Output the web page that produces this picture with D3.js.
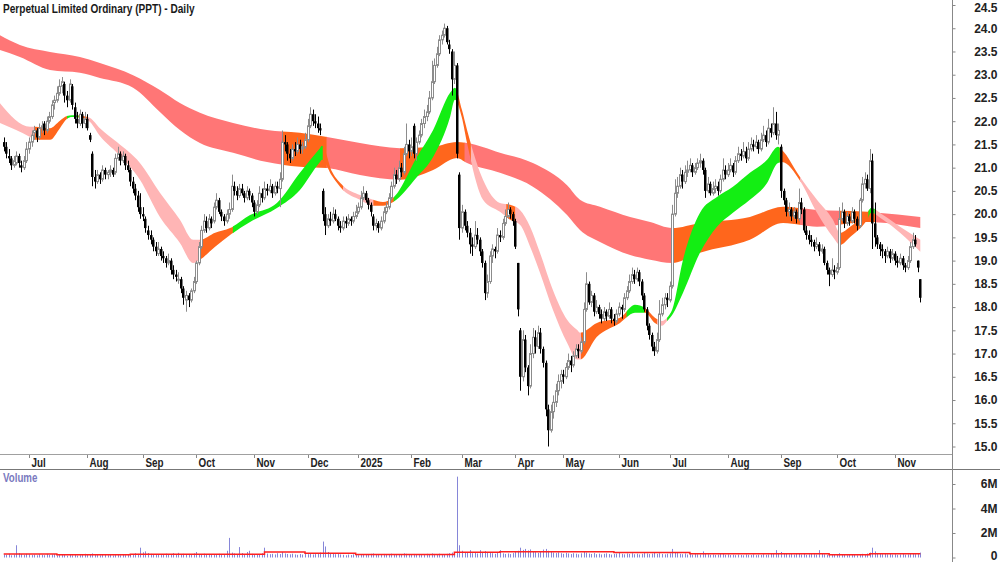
<!DOCTYPE html>
<html>
<head>
<meta charset="utf-8">
<script src="https://cdn.jsdelivr.net/npm/d3@7"></script>
<style>
body { margin: 0; background: #fff; }
svg { display: block; font-family: "Liberation Sans", Arial, sans-serif; }
</style>
</head>
<body>
<div id="chart"></div>
<script>
// ---- Daily OHLC, 17 Jun 2024 .. 17 Nov 2025 (one row per month) ----
var opens = [
  21.55,21.45,21.25,21.20,21.05,21.10,21.25,21.05,21.00,21.15,
  21.40,21.55,21.75,21.80,21.65,21.85,21.95,21.80,22.00,22.10,22.40,22.45,22.60,22.75,22.80,22.55,22.45,22.75,22.30,22.05,21.95,22.15,21.95,
  22.05,21.70,21.30,20.80,20.70,20.85,20.75,20.95,20.85,20.90,20.95,20.90,21.20,21.30,21.15,21.25,21.05,20.95,20.70,20.55,20.40,20.15,
  20.00,19.90,19.65,19.55,19.45,19.30,19.15,19.25,19.10,19.05,18.95,19.00,18.80,18.70,18.60,18.60,18.40,18.15,18.25,18.15,18.35,
  18.55,18.95,19.30,19.65,19.85,19.70,19.90,19.85,20.15,20.30,20.05,19.95,19.85,20.00,20.10,20.60,20.50,20.40,20.55,20.45,20.35,20.50,20.40,
  20.25,20.05,20.20,20.45,20.35,20.55,20.50,20.60,20.45,20.60,20.55,20.75,21.55,21.50,21.30,21.20,21.40,21.35,21.50,21.40,21.45,
  21.60,21.90,22.15,22.00,21.95,21.85,20.50,20.00,19.75,19.90,19.85,20.00,19.90,19.75,19.70,19.85,19.80,19.90,19.85,19.95,
  20.05,20.15,20.35,20.45,20.30,20.20,19.95,19.75,19.80,19.70,19.85,20.05,20.15,20.35,20.60,20.85,20.75,21.00,20.90,21.30,21.50,
  21.35,21.90,21.30,21.55,21.70,21.95,22.10,22.20,22.50,22.85,23.20,23.45,23.75,23.85,24.00,23.65,23.50,22.90,23.20,20.85,
  19.70,20.05,19.75,19.60,19.35,19.30,19.55,19.45,19.20,18.95,18.30,18.55,19.10,19.25,19.20,19.55,19.50,19.80,19.95,20.10,20.00,
  19.85,18.95,17.50,16.50,17.30,16.70,16.30,17.00,17.35,17.15,17.45,17.10,16.80,15.80,15.35,15.75,15.95,16.20,16.40,
  16.55,16.50,16.70,16.85,16.75,16.95,17.10,17.05,17.25,17.95,18.50,18.10,18.25,17.90,18.00,17.85,17.75,17.90,17.80,17.95,17.75,17.70,
  17.85,18.00,17.95,18.20,18.35,18.55,18.70,18.60,18.75,18.55,18.25,17.95,17.60,17.40,17.15,17.05,17.30,17.85,18.05,18.20,
  18.15,18.45,20.00,20.45,20.60,20.85,20.70,20.90,20.95,21.05,20.90,21.00,21.10,21.15,20.95,20.50,20.65,20.45,20.55,20.60,20.50,20.75,20.95,
  20.85,20.95,21.05,20.90,21.15,21.30,21.25,21.35,21.20,21.40,21.50,21.45,21.55,21.40,21.60,21.70,21.55,21.85,21.75,21.95,21.70,
  21.45,20.50,20.30,20.05,20.10,19.95,20.05,19.90,20.25,20.10,19.65,19.55,19.45,19.40,19.30,19.35,19.20,19.25,18.95,18.80,18.70,18.80,
  18.75,18.85,19.90,20.05,19.80,19.95,19.85,20.05,19.90,19.75,20.30,20.65,20.75,20.55,21.15,19.80,19.50,19.35,19.25,19.20,19.10,19.20,19.05,
  19.15,19.00,18.95,19.05,18.90,18.85,19.00,19.30,19.45,19.00,18.60
];
var highs = [
  21.65,21.55,21.40,21.25,21.25,21.35,21.30,21.15,21.25,21.55,
  21.65,21.80,21.90,21.85,21.95,22.00,22.00,22.10,22.20,22.45,22.55,22.75,22.90,22.95,22.85,22.65,22.90,22.80,22.40,22.20,22.25,22.20,22.20,
  22.15,21.75,21.35,20.95,20.95,20.90,21.05,21.00,20.95,21.05,21.00,21.30,21.45,21.35,21.35,21.30,21.15,21.00,20.80,20.65,20.50,20.45,
  20.15,19.95,19.75,19.65,19.50,19.40,19.40,19.30,19.20,19.10,19.15,19.05,18.90,18.80,18.75,18.65,18.45,18.35,18.30,18.40,18.65,
  19.00,19.40,19.75,20.00,19.95,20.00,19.95,20.25,20.45,20.35,20.10,20.00,20.10,20.25,20.85,20.70,20.60,20.65,20.65,20.50,20.60,20.55,20.45,
  20.30,20.30,20.60,20.55,20.70,20.65,20.75,20.65,20.70,20.70,20.90,21.80,21.70,21.55,21.40,21.50,21.55,21.65,21.60,21.55,21.75,
  22.05,22.30,22.25,22.15,22.10,21.95,20.55,20.15,20.00,20.05,20.15,20.10,19.95,19.85,19.95,19.95,20.00,19.95,20.05,20.20,
  20.25,20.50,20.60,20.50,20.35,20.25,20.00,19.90,19.85,19.95,20.15,20.25,20.45,20.70,21.00,20.95,21.15,21.10,21.45,21.95,21.60,
  21.65,21.95,21.65,21.80,22.05,22.25,22.35,22.65,23.30,23.35,23.60,23.85,23.95,24.10,24.05,23.75,23.55,23.50,23.25,20.90,
  20.20,20.10,19.85,19.70,19.50,19.85,19.70,19.50,19.25,19.00,18.70,19.20,19.35,19.30,19.70,19.65,19.90,20.10,20.25,20.15,20.05,
  19.90,18.95,17.55,17.50,17.40,16.75,17.20,17.55,17.50,17.60,17.55,17.15,16.85,15.90,15.90,16.10,16.35,16.55,16.65,
  16.65,16.80,17.00,16.95,17.05,17.20,17.20,17.35,18.10,18.75,18.55,18.35,18.30,18.15,18.05,17.95,18.00,17.95,18.10,18.00,17.85,17.95,
  18.10,18.05,18.30,18.45,18.70,18.85,18.80,18.85,18.80,18.60,18.30,18.00,17.65,17.45,17.25,17.45,18.15,18.20,18.30,18.30,
  18.55,20.20,20.75,20.80,21.00,20.95,21.05,21.15,21.20,21.10,21.10,21.20,21.30,21.20,21.00,20.80,20.70,20.70,20.75,20.70,20.85,21.20,21.05,
  21.10,21.20,21.10,21.25,21.45,21.40,21.55,21.45,21.55,21.65,21.60,21.70,21.60,21.75,21.90,21.80,22.05,21.95,22.30,22.20,21.95,
  21.50,20.55,20.35,20.25,20.15,20.15,20.10,20.55,20.35,20.15,19.75,19.65,19.55,19.45,19.50,19.40,19.35,19.30,19.00,18.85,19.05,18.90,
  18.95,20.15,20.25,20.10,20.05,20.00,20.15,20.10,19.95,20.35,20.80,20.90,20.85,21.40,21.30,20.25,19.55,19.40,19.35,19.25,19.30,19.25,19.25,
  19.20,19.10,19.15,19.10,18.95,19.10,19.40,19.60,19.55,19.00,18.60
];
var lows = [
  21.35,21.20,21.10,20.95,21.00,21.05,21.00,20.90,20.95,21.10,
  21.30,21.45,21.60,21.55,21.60,21.75,21.70,21.75,21.95,22.05,22.25,22.40,22.55,22.60,22.40,22.30,22.40,22.25,21.95,21.85,21.90,21.85,21.85,
  21.80,21.55,20.60,20.55,20.65,20.65,20.70,20.75,20.75,20.80,20.80,20.85,21.15,21.05,21.10,20.95,20.90,20.60,20.45,20.30,20.05,19.90,
  19.85,19.60,19.45,19.35,19.20,19.10,19.10,19.00,18.95,18.85,18.90,18.70,18.60,18.55,18.50,18.30,18.05,17.90,18.00,18.10,18.30,
  18.50,18.90,19.25,19.60,19.60,19.65,19.70,19.80,20.10,20.00,19.85,19.75,19.80,19.90,20.05,20.40,20.30,20.35,20.40,20.25,20.30,20.30,20.15,
  19.95,20.00,20.15,20.25,20.30,20.40,20.45,20.35,20.40,20.45,20.15,20.70,21.35,21.15,21.10,21.15,21.25,21.30,21.30,21.30,21.40,
  21.55,21.85,21.90,21.85,21.75,21.70,19.85,19.55,19.70,19.75,19.80,19.85,19.65,19.60,19.65,19.70,19.75,19.75,19.80,19.90,
  20.00,20.10,20.30,20.25,20.10,19.95,19.65,19.65,19.60,19.65,19.80,20.00,20.10,20.30,20.55,20.65,20.70,20.80,20.85,21.25,21.20,
  21.25,21.20,21.15,21.50,21.65,21.85,22.00,22.15,22.45,22.80,23.15,23.40,23.65,23.80,23.65,23.45,22.55,22.80,21.20,19.45,
  19.60,19.65,19.50,19.15,19.10,19.25,19.35,19.10,18.85,18.15,18.20,18.50,18.95,19.05,19.15,19.40,19.45,19.75,19.90,19.90,19.75,
  19.25,17.80,16.20,16.40,16.60,16.10,16.25,16.90,17.00,17.10,17.00,16.70,15.65,15.00,15.30,15.60,15.85,16.10,16.25,
  16.35,16.45,16.65,16.60,16.70,16.90,16.90,17.00,17.20,17.90,18.05,18.00,17.80,17.85,17.75,17.65,17.70,17.70,17.75,17.65,17.60,17.65,
  17.80,17.75,17.90,18.15,18.30,18.50,18.50,18.55,18.45,18.15,17.90,17.50,17.30,17.05,16.95,17.00,17.25,17.80,17.95,18.00,
  18.10,18.40,19.95,20.35,20.55,20.55,20.65,20.80,20.90,20.80,20.85,20.95,21.00,20.85,20.35,20.45,20.40,20.40,20.45,20.40,20.45,20.70,20.75,
  20.80,20.90,20.80,20.85,21.10,21.15,21.20,21.10,21.15,21.35,21.35,21.40,21.30,21.35,21.55,21.45,21.50,21.65,21.70,21.60,21.50,
  20.35,20.20,19.95,19.95,19.85,19.90,19.80,19.85,20.00,19.60,19.45,19.35,19.30,19.20,19.25,19.10,19.15,18.90,18.70,18.45,18.65,18.60,
  18.70,18.80,19.85,19.70,19.75,19.75,19.80,19.80,19.65,19.70,20.25,20.55,20.50,20.45,19.25,19.30,19.25,19.10,19.05,18.95,19.05,18.95,19.00,
  18.90,18.85,18.90,18.80,18.75,18.80,18.95,19.25,19.30,18.75,18.10
];
var closes = [
  21.45,21.30,21.20,21.05,21.15,21.25,21.10,21.00,21.15,21.40,
  21.55,21.70,21.80,21.65,21.85,21.90,21.80,22.00,22.10,22.35,22.45,22.60,22.75,22.85,22.55,22.45,22.80,22.35,22.05,21.95,22.15,21.95,22.05,
  21.85,21.60,20.80,20.70,20.85,20.75,20.95,20.85,20.90,20.95,20.85,21.20,21.30,21.15,21.25,21.05,20.95,20.70,20.55,20.40,20.15,20.00,
  19.95,19.70,19.55,19.45,19.30,19.20,19.25,19.10,19.05,18.95,19.00,18.80,18.70,18.65,18.60,18.40,18.20,18.25,18.15,18.35,18.55,
  18.95,19.30,19.65,19.85,19.70,19.90,19.80,20.15,20.30,20.05,19.95,19.85,20.00,20.10,20.60,20.50,20.40,20.55,20.45,20.35,20.50,20.40,20.25,
  20.05,20.20,20.45,20.35,20.55,20.50,20.60,20.45,20.60,20.55,20.75,21.55,21.50,21.30,21.20,21.40,21.35,21.50,21.40,21.45,21.60,
  21.90,22.15,22.00,21.95,21.85,21.80,20.00,19.75,19.90,19.85,20.00,19.90,19.75,19.70,19.85,19.80,19.90,19.85,19.95,20.05,
  20.15,20.35,20.45,20.30,20.20,20.05,19.75,19.80,19.70,19.85,20.05,20.15,20.35,20.60,20.85,20.75,21.00,20.90,21.30,21.50,21.35,
  21.45,21.30,21.55,21.70,21.95,22.10,22.20,22.50,22.85,23.20,23.45,23.75,23.85,24.00,23.70,23.55,22.90,23.20,21.30,19.70,
  20.05,19.75,19.60,19.35,19.30,19.55,19.45,19.20,18.95,18.30,18.55,19.10,19.25,19.20,19.55,19.50,19.80,19.95,20.10,20.00,19.85,
  19.30,17.95,16.50,17.30,16.70,16.30,17.00,17.35,17.15,17.45,17.10,16.80,15.80,15.35,15.75,15.95,16.20,16.40,16.55,
  16.50,16.70,16.85,16.75,16.95,17.10,17.05,17.25,17.95,18.50,18.10,18.25,17.90,18.00,17.85,17.75,17.90,17.80,17.95,17.75,17.70,17.85,
  18.00,17.95,18.20,18.35,18.55,18.70,18.60,18.75,18.55,18.25,17.95,17.60,17.40,17.15,17.05,17.30,17.85,18.05,18.20,18.15,
  18.45,20.00,20.45,20.60,20.85,20.70,20.90,20.95,21.05,20.90,21.00,21.10,21.15,20.95,20.50,20.65,20.45,20.55,20.60,20.50,20.75,20.95,20.85,
  20.95,21.05,20.90,21.15,21.30,21.25,21.35,21.20,21.40,21.50,21.45,21.55,21.40,21.60,21.70,21.55,21.85,21.75,21.95,21.70,21.80,
  20.50,20.30,20.05,20.10,19.95,20.05,19.90,20.25,20.10,19.65,19.55,19.45,19.40,19.30,19.35,19.20,19.25,18.95,18.80,18.70,18.80,18.75,
  18.85,19.90,20.05,19.80,19.95,19.85,20.05,19.90,19.75,20.30,20.65,20.75,20.55,21.15,19.80,19.50,19.35,19.25,19.20,19.10,19.20,19.05,19.15,
  19.00,18.95,19.05,18.90,18.85,19.00,19.30,19.45,19.35,18.85,18.20
];
// volume, millions of shares
var volumes = [
  0.25,0.22,0.30,0.18,0.24,1.00,0.35,0.28,0.22,0.30,
  0.26,0.20,0.24,0.18,0.27,0.22,0.19,0.30,0.21,0.25,
  0.28,0.18,0.23,0.26,0.20,0.15,0.22,0.18,0.21,0.16,
  0.19,0.23,0.30,0.27,0.24,0.33,0.22,0.20,0.18,0.23,
  0.25,0.19,0.21,0.17,0.20,0.24,0.18,0.22,0.19,0.26,
  0.21,0.24,0.35,0.30,0.80,0.42,0.50,0.36,0.30,0.22,
  0.28,0.25,0.20,0.24,0.31,0.26,0.22,0.35,0.28,0.38,
  0.25,0.30,0.22,0.29,0.24,0.33,0.45,0.28,0.26,0.31,
  0.24,0.29,0.22,0.27,0.25,0.30,0.21,0.26,0.55,1.60,
  0.40,0.33,0.28,0.85,0.36,0.27,0.45,0.55,0.30,0.26,
  0.24,0.22,0.35,0.80,0.32,0.27,0.30,0.25,0.35,0.28,
  0.45,0.33,0.29,0.26,0.31,0.25,0.22,0.28,0.24,0.30,
  0.27,0.32,0.25,0.28,0.35,0.40,1.30,0.90,0.45,0.36,
  0.30,0.27,0.33,0.25,0.22,0.18,0.24,0.20,0.26,0.22,
  0.19,0.25,0.21,0.28,0.24,0.30,0.33,0.26,0.22,0.25,
  0.29,0.23,0.27,0.31,0.25,0.22,0.28,0.24,0.34,0.30,
  0.26,0.23,0.29,0.25,0.21,0.27,0.24,0.30,0.28,0.33,
  0.29,0.25,0.31,0.27,0.24,0.30,0.35,0.40,0.45,6.60,
  1.00,0.55,0.42,0.38,0.60,0.35,0.40,0.33,0.60,0.45,
  0.52,0.38,0.41,0.35,0.30,0.37,0.60,0.34,0.29,0.33,
  0.28,0.36,0.45,0.55,0.80,0.62,0.70,0.58,0.66,0.50,
  0.44,0.38,0.47,0.65,0.70,0.55,0.48,0.40,0.36,0.42,
  0.35,0.30,0.38,0.33,0.28,0.35,0.31,0.26,0.34,0.45,
  0.40,0.32,0.29,0.36,0.27,0.31,0.25,0.30,0.34,0.28,
  0.24,0.29,0.32,0.40,0.30,0.26,0.33,0.29,0.35,0.27,
  0.31,0.25,0.30,0.36,0.33,0.28,0.32,0.38,0.30,0.35,
  0.29,0.26,0.31,0.34,0.70,0.45,0.36,0.30,0.27,0.33,
  0.25,0.29,0.23,0.28,0.26,0.24,0.50,0.35,0.27,0.22,
  0.25,0.21,0.24,0.28,0.30,0.22,0.26,0.20,0.23,0.19,
  0.24,0.21,0.18,0.25,0.22,0.20,0.26,0.19,0.23,0.21,
  0.27,0.22,0.25,0.30,0.28,0.60,0.35,0.45,0.33,0.29,
  0.26,0.30,0.24,0.28,0.33,0.25,0.29,0.22,0.26,0.30,
  0.27,0.24,0.60,0.31,0.26,0.22,0.28,0.25,0.21,0.24,
  0.35,0.28,0.22,0.19,0.25,0.20,0.23,0.18,0.26,0.30,
  0.28,0.33,0.40,0.80,0.50,0.35,0.30,0.27,0.32,0.26,
  0.29,0.24,0.27,0.22,0.25,0.30,0.23,0.26,0.28,0.31,
  0.27,0.35,0.40
];
// volume average (red line), step levels
var volAvgIdx   = [0,    21,   50,   103,  119,  139,  178,  196,  241,  271,  326,  342,  362];
var volAvgLevel = [0.29, 0.22, 0.27, 0.45, 0.35, 0.25, 0.42, 0.47, 0.40, 0.30, 0.22, 0.30, 0.30];

// long-term ribbon (bar index, upper and lower edge)
var longIdx   = [-1.5, 6.4, 18.3, 30.1, 38.0, 51.1, 61.7, 69.6, 77.5, 90.6, 104, 117, 127.7, 140.7, 156.5, 169.6, 179, 183, 196, 209, 222.5, 227.6, 235.5, 247.4, 255.3, 264, 275, 294.7, 307.8, 321.2, 341, 362];
var longUpper = [23.85,23.64,23.49,23.38,23.25,22.99,22.67,22.39,22.18,21.96,21.81,21.75,21.66,21.53,21.42,21.45,21.55,21.53,21.32,21.10,20.62,20.31,20.16,19.94,19.83,19.70,19.81,19.94,20.16,20.09,20.05,19.94];
var longLower = [23.53,23.38,23.10,23.04,22.93,22.72,22.20,21.81,21.53,21.32,21.12,21.02,20.99,20.84,20.74,20.95,21.21,21.10,20.89,20.59,19.98,19.66,19.40,19.12,19.02,18.95,19.17,19.45,19.81,19.73,19.83,19.70];
var longColour = [[-2,"red"],[110,"orange"],[127.5,"red"],[156.5,"orange"],[182,"red"],[264,"orange"],[314.5,"red"],[330,"orange"],[344.5,"red"]];

// short-term ribbon
var shortIdx   = [-1.5,10.4,12.4,18.3,22.2,25,27,31.3,34.1,38,44.7,53.8,61.7,69.6,74.8,77.5,83.5,89.4,97.3,107.9,117,124.9,125.7,129.7,134,140.7,145.9,149.8,153.8,163.2,169.6,176.3,178.2,181,183,189.3,196,200,203.9,207.9,211.8,216.9,222.5,226.4,227.6,234.3,243.4,249.3,253.3,257.2,260,262,264,268.3,275,281.7,288,294.7,301.5,305.8,307.4,314.5,321.2,327.5,330.3,334.3,341,342.6,347.3,354,362];
var shortUpper = [22.39,21.88,21.88,21.85,22.01,22.11,22.13,22.11,22.07,21.85,21.55,21.10,20.46,19.88,19.45,19.45,19.60,19.70,19.98,20.24,20.89,21.42,21.47,20.91,20.61,20.41,20.31,20.26,20.35,21.23,21.81,22.61,22.72,22.24,21.81,20.74,20.24,20.20,20.09,19.73,19.17,18.37,17.73,17.51,17.45,17.66,17.77,18.05,17.98,17.77,17.70,17.77,17.94,19.02,20.03,20.37,20.59,20.89,21.17,21.45,21.38,20.80,20.31,19.88,19.60,19.73,20.03,20.13,19.98,19.73,19.45];
var shortLower = [21.96,21.66,21.60,21.60,21.85,22.05,22.09,22.07,21.98,21.68,21.32,20.74,19.94,19.38,18.95,19.02,19.30,19.55,19.83,20.13,20.52,21.12,21.17,20.82,20.52,20.31,20.18,20.18,20.26,20.80,21.23,22.09,22.46,22.07,21.53,20.31,20.05,19.88,19.77,19.30,18.74,17.94,17.23,16.87,16.87,17.36,17.66,17.88,17.88,17.66,17.60,17.70,17.83,18.31,19.17,19.73,20.03,20.31,20.67,21.10,21.12,20.72,20.03,19.51,19.34,19.51,19.88,20.03,19.88,19.60,19.19];
var shortColour = [[-2,"pink"],[12,"orange"],[25,"green"],[29.5,"orange"],[33,"pink"],[77.5,"orange"],[90.5,"green"],[126,"orange"],[134,"pink"],[146,"orange"],[154,"green"],[179,"orange"],[184.5,"pink"],[198.5,"orange"],[202,"pink"],[228,"orange"],[246,"green"],[253,"orange"],[258,"pink"],[262,"green"],[306.5,"orange"],[314.5,"pink"],[330.5,"orange"],[341.5,"green"],[344,"pink"]];

var priceTicks  = d3.range(15, 24.51, 0.5);
var volumeTicks = [0, 2, 4, 6];
var monthNames  = ["2025","Feb","Mar","Apr","May","Jun","Jul","Aug","Sep","Oct","Nov","Dec"];
var holidays    = ["2024-12-25","2024-12-26","2025-01-01","2025-01-27","2025-04-18","2025-04-21","2025-04-25","2025-06-09"];

var ribbonFill = { red: "#ff7676", orange: "#ff661c", green: "#13ee13", pink: "#ffb5b5" };

// ---- layout ----
var chart_width  = 1000;
var chart_height = 562;
var axis_x       = 952.5;

// trading days
var dates = [];
var day = new Date(Date.UTC(2024, 5, 17));
while (dates.length < closes.length) {
    var wd = day.getUTCDay();
    var key = day.toISOString().slice(0, 10);
    if (wd > 0 && wd < 6 && holidays.indexOf(key) < 0) dates.push(new Date(day));
    day.setUTCDate(day.getUTCDate() + 1);
}

var x    = d3.scaleLinear().domain([0, closes.length - 1]).range([3.7, 3.7 + (closes.length - 1) * 2.532]);
var y    = d3.scaleLinear().domain([15, 24.5]).range([446.5, 5]);
var yVol = d3.scaleLinear().domain([0, 6]).range([557.5, 484]);

var svg = d3.select("#chart")
    .append("svg")
    .attr("width", chart_width)
    .attr("height", chart_height);

var defs = svg.append("defs");

// squeeze text into the narrow look of the original
function squeeze(sel, k) {
    sel.each(function() {
        var w = this.getComputedTextLength();
        d3.select(this).attr("textLength", w * k).attr("lengthAdjust", "spacingAndGlyphs");
    });
}

// ---- ribbons ----
var ribbons = svg.append("g");
var clipN = 0;
function drawRibbon(idx, upper, lower, stops) {
    var area = d3.area()
        .x(function(d, i) { return x(idx[i]); })
        .y0(function(d, i) { return y(lower[i]); })
        .y1(function(d, i) { return y(upper[i]); })
        .curve(d3.curveMonotoneX);
    stops.forEach(function(s, k) {
        var x0 = k === 0 ? 0 : x(s[0]);
        var x1 = k + 1 < stops.length ? x(stops[k + 1][0]) + 0.6 : axis_x;
        var id = "clip" + (clipN++);
        defs.append("clipPath").attr("id", id)
            .append("rect")
            .attr("x", x0).attr("y", 0)
            .attr("width", x1 - x0).attr("height", 454);
        ribbons.append("path")
            .datum(idx)
            .attr("d", area)
            .attr("fill", ribbonFill[s[1]])
            .attr("clip-path", "url(#" + id + ")");
    });
}
drawRibbon(longIdx, longUpper, longLower, longColour);
drawRibbon(shortIdx, shortUpper, shortLower, shortColour);

// ---- candles ----
var candles = svg.append("g");
closes.forEach(function(c, i) {
    var o = opens[i], up = c >= o;
    var cx = Math.round(x(i)) + 0.5;
    var top = y(Math.max(o, c)), bot = y(Math.min(o, c));
    candles.append("line")
        .attr("x1", cx).attr("x2", cx)
        .attr("y1", y(highs[i])).attr("y2", y(lows[i]))
        .attr("stroke", up ? "#8c8c8c" : "#000")
        .attr("stroke-width", 1);
    if (up) {
        candles.append("rect")
            .attr("x", cx - 1).attr("y", top)
            .attr("width", 2).attr("height", Math.max(bot - top, 1))
            .attr("fill", "#fff").attr("stroke", "#8c8c8c").attr("stroke-width", 1);
    } else {
        candles.append("rect")
            .attr("x", cx - 1.5).attr("y", top)
            .attr("width", 2.5).attr("height", Math.max(bot - top, 1))
            .attr("fill", "#000");
    }
});

// ---- volume ----
var vol = svg.append("g");
volumes.forEach(function(v, i) {
    var cx = Math.round(x(i)) + 0.5;
    vol.append("line")
        .attr("x1", cx).attr("x2", cx)
        .attr("y1", yVol(0)).attr("y2", yVol(v))
        .attr("stroke", "#8686d8").attr("stroke-width", 1);
});
vol.append("path")
    .datum(volAvgIdx)
    .attr("d", d3.line()
        .x(function(d) { return x(d); })
        .y(function(d, i) { return yVol(volAvgLevel[i]); })
        .curve(d3.curveStepAfter))
    .attr("fill", "none")
    .attr("stroke", "#ff2020")
    .attr("stroke-width", 1.5);

// ---- frame ----
svg.append("line").attr("x1", 0).attr("x2", axis_x).attr("y1", 454.5).attr("y2", 454.5).attr("stroke", "#a0a0a0");
svg.append("line").attr("x1", 0).attr("x2", chart_width).attr("y1", 469.5).attr("y2", 469.5).attr("stroke", "#777");
svg.append("line").attr("x1", axis_x).attr("x2", axis_x).attr("y1", 0).attr("y2", chart_height).attr("stroke", "#888");

// price axis
var yAxis = d3.axisRight(y).tickValues(priceTicks).tickSize(3).tickFormat(d3.format(".1f"));
var ya = svg.append("g").attr("transform", "translate(" + axis_x + ",0)").call(yAxis);
ya.select(".domain").remove();
ya.selectAll(".tick line").attr("stroke", "#888");
ya.selectAll(".tick text")
    .attr("x", 45).attr("text-anchor", "end")
    .attr("font-size", 12).attr("font-weight", "bold").attr("fill", "#222")
    .attr("font-family", "Liberation Sans, Arial, sans-serif")
    .attr("dy", function(d) { return d === 24.5 ? "0.5em" : "0.32em"; });

// volume axis
var vAxis = d3.axisRight(yVol).tickValues(volumeTicks).tickSize(3)
    .tickFormat(function(d) { return d === 0 ? "0" : d + "M"; });
var va = svg.append("g").attr("transform", "translate(" + axis_x + ",0)").call(vAxis);
va.select(".domain").remove();
va.selectAll(".tick line").attr("stroke", "#888");
va.selectAll(".tick text")
    .attr("x", 45).attr("text-anchor", "end")
    .attr("font-size", 12).attr("font-weight", "bold").attr("fill", "#222")
    .attr("font-family", "Liberation Sans, Arial, sans-serif")
    .attr("dy", function(d) { return d === 0 ? "0.2em" : "0.32em"; });

// month axis
var monthStarts = [];
dates.forEach(function(d, i) {
    if (i > 0 && d.getUTCMonth() !== dates[i - 1].getUTCMonth()) monthStarts.push(i);
});
var months = svg.append("g");
monthStarts.forEach(function(i) {
    var tx = Math.round(x(i)) + 0.5;
    months.append("line").attr("x1", tx).attr("x2", tx).attr("y1", 455).attr("y2", 458).attr("stroke", "#888");
    months.append("text")
        .attr("x", tx + 2).attr("y", 466.5)
        .attr("font-size", 12).attr("font-weight", "bold").attr("fill", "#222")
        .text(monthNames[dates[i].getUTCMonth()]);
});
squeeze(months.selectAll("text"), 0.82);

// titles
svg.append("text")
    .attr("x", 3).attr("y", 12.5)
    .attr("font-size", 12).attr("font-weight", "bold").attr("fill", "#1a1a1a")
    .text("Perpetual Limited Ordinary (PPT) - Daily")
    .call(squeeze, 0.84);

svg.append("text")
    .attr("x", 3).attr("y", 482)
    .attr("font-size", 12).attr("font-weight", "bold").attr("fill", "#7a7ac0")
    .text("Volume")
    .call(squeeze, 0.81);
</script>
</body>
</html>
